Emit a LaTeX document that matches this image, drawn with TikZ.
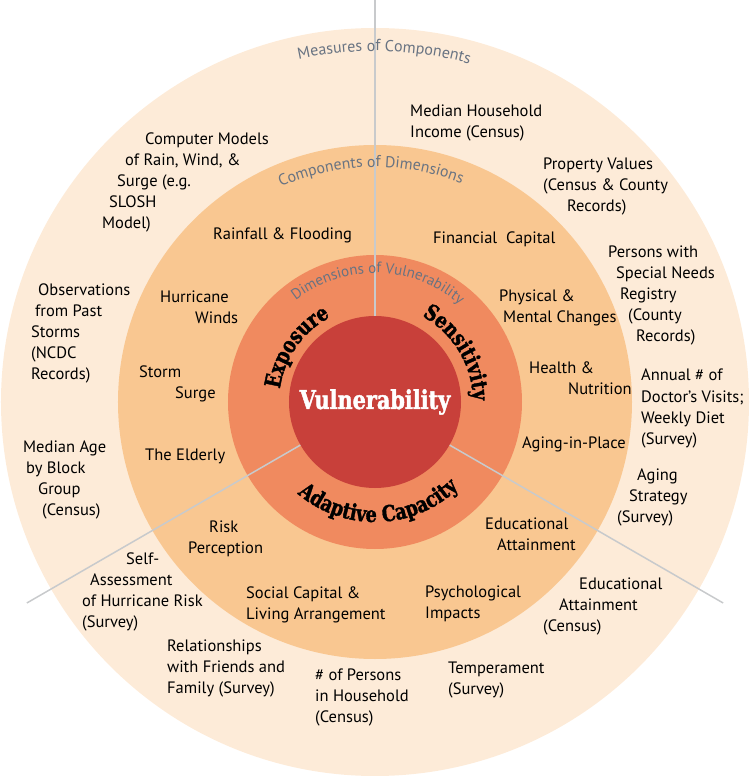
\documentclass[tikz,border=0pt]{standalone}
\usepackage{fontspec}
\setmainfont{PT Sans}
\newfontfamily\dimfont{DejaVu Serif}[FakeStretch=0.8, FakeBold=1.6]
\usetikzlibrary{decorations.text}

\definecolor{outerring}{HTML}{FDEBD8}
\definecolor{compring}{HTML}{F9C791}
\definecolor{dimring}{HTML}{F08A5F}
\definecolor{corered}{HTML}{C8403A}
\definecolor{labgray}{HTML}{687382}
\definecolor{spokegray}{HTML}{C8CACC}

\begin{document}
\begin{tikzpicture}[x=1pt, y=1pt,
  item/.style={anchor=base west, align=left, inner sep=0pt, font=\fontsize{16.5}{21}\selectfont},
  ringlabel/.style={decorate, decoration={text along path, text align=center, text color=labgray}},
  dimlabel/.style={decorate, decoration={text along path, text align=center}},
  spoke/.style={draw=spokegray, line width=1.5pt}]
\useasboundingbox (-375,-374) rectangle (375,402);

% Rings
\fill[outerring] (0,0) circle (374pt);
\fill[compring] (0,0) circle (257pt);
\fill[dimring] (0,0) circle (147pt);

% Core
\node[circle, fill=corered, minimum size=172pt, inner sep=0pt, text=white,
  font=\dimfont\bfseries\fontsize{26}{26}\selectfont] (core) at (0,0) {Vulnerability};

% Spokes
\coordinate (top end) at (90:402pt);
\coordinate (left end) at (210:402pt);
\coordinate (right end) at (330:402pt);
\draw[spoke] (core.90) -- (top end);
\draw[spoke] (core.210) -- (left end);
\draw[spoke] (core.330) -- (right end);

% Ring titles
\path[ringlabel, decoration={text={|\fontsize{16}{16}\selectfont|Measures of Components}}]
  (130:351pt) arc[start angle=130, end angle=47, radius=351pt];
\path[ringlabel, decoration={text={|\fontsize{15.8}{16}\selectfont|Components of Dimensions}}]
  (135:235pt) arc[start angle=135, end angle=47, radius=235pt];
\path[ringlabel, decoration={text={|\fontsize{15}{15}\selectfont|Dimensions of Vulnerability}}]
  (152:129pt) arc[start angle=152, end angle=25, radius=129pt];

% Dimensions
\path[dimlabel, decoration={text={|\dimfont\bfseries\fontsize{22}{22}\selectfont|Exposure}}]
  (200:96pt) arc[start angle=200, end angle=90, radius=96pt];
\path[dimlabel, decoration={text={|\dimfont\bfseries\fontsize{22}{22}\selectfont|Sensitivity}}]
  (86:98pt) arc[start angle=86, end angle=-24, radius=98pt];
\path[dimlabel, decoration={text={|\dimfont\bfseries\fontsize{22}{22}\selectfont|Adaptive Capacity}}]
  (182:120pt) arc[start angle=182, end angle=362, radius=120pt];

% Components
\node[item] (financial) at (58,158) {Financial\ \ Capital};
\node[item] (physical) at (124,79) {Physical \&\\\hspace*{4pt}Mental Changes};
\node[item] (health) at (154,7) {Health \&\\\hspace*{39pt}Nutrition};
\node[item] (aginginplace) at (147,-47) {Aging-in-Place};
\node[item] (educ) at (110,-148) {Educational\\\hspace*{12pt}Attainment};
\node[item] (psych) at (50,-216) {Psychological\\Impacts};
\node[item] (social) at (-129,-217) {Social Capital \&\\Living Arrangement};
\node[item] (riskperc) at (-187,-151) {\hspace*{21pt}Risk\\Perception};
\node[item] (elderly) at (-230,-58) {The Elderly};
\node[item] (surge) at (-236,3) {Storm\\\hspace*{36pt}Surge};
\node[item] (winds) at (-215,78) {Hurricane\\\hspace*{35pt}Winds};
\node[item] (rainfall) at (-162,162) {Rainfall \& Flooding};

% Measures
\node[item] (income) at (35,264) {Median Household\\Income (Census)};
\node[item] (property) at (168,190) {Property Values\\(Census \& County\\\hspace*{24pt}Records)};
\node[item] (registry) at (233,60) {Persons with\\\hspace*{8pt}Special Needs\\\hspace*{12pt}Registry\\\hspace*{20pt}(County\\\hspace*{28pt}Records)};
\node[item] (doctor) at (266,-42) {Annual \# of\\Doctor’s Visits;\\Weekly Diet\\(Survey)};
\node[item] (agingsurvey) at (242,-120) {\hspace*{20pt}Aging\\\hspace*{12pt}Strategy\\(Survey)};
\node[item] (educcensus) at (168,-229) {\hspace*{36pt}Educational\\\hspace*{16pt}Attainment\\(Census)};
\node[item] (temperament) at (73,-292) {Temperament\\(Survey)};
\node[item] (persons) at (-60,-320) {\# of Persons\\in Household\\(Census)};
\node[item] (relations) at (-208,-291) {Relationships\\with Friends and\\Family (Survey)};
\node[item] (selfassess) at (-293,-225) {\hspace*{44pt}Self-\\\hspace*{8pt}Assessment\\of Hurricane Risk\\(Survey)};
\node[item] (medianage) at (-352,-113) {Median Age\\\hspace*{3pt}by Block\\\hspace*{15pt}Group\\\hspace*{19pt}(Census)};
\node[item] (observations) at (-344,22) {\hspace*{7pt}Observations\\\hspace*{4pt}from Past\\Storms\\(NCDC\\Records)};
\node[item] (models) at (-273,173) {\hspace*{43pt}Computer Models\\\hspace*{23pt}of Rain, Wind, \&\\\hspace*{15pt}Surge (e.g.\\\hspace*{7pt}SLOSH\\Model)};
\end{tikzpicture}
\end{document}
